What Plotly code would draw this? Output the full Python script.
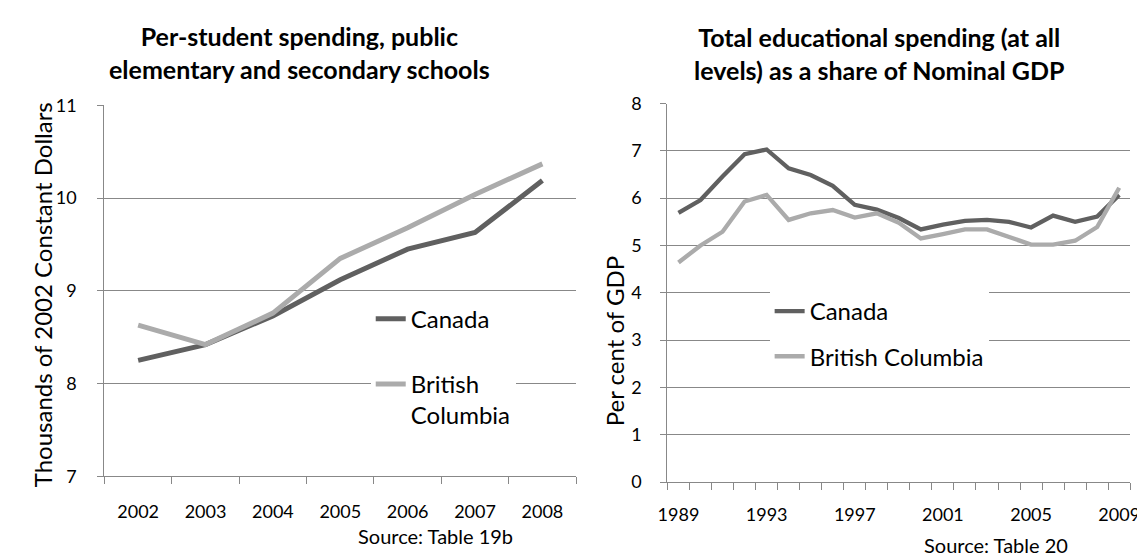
import plotly.graph_objects as go

# ---------------- data ----------------
years_a = [2002, 2003, 2004, 2005, 2006, 2007, 2008]
canada_a = [8.25, 8.42, 8.73, 9.12, 9.45, 9.63, 10.19]
bc_a = [8.63, 8.42, 8.76, 9.35, 9.68, 10.04, 10.37]

years_b = [1989, 1990, 1991, 1992, 1993, 1994, 1995, 1996, 1997, 1998, 1999,
           2000, 2001, 2002, 2003, 2004, 2005, 2006, 2007, 2008, 2009]
canada_b = [5.69, 5.96, 6.46, 6.93, 7.03, 6.63, 6.49, 6.26, 5.86, 5.76, 5.58,
            5.34, 5.44, 5.52, 5.54, 5.50, 5.38, 5.63, 5.50, 5.61, 6.07]
bc_b = [4.64, 5.00, 5.29, 5.93, 6.07, 5.54, 5.68, 5.75, 5.59, 5.68, 5.48,
        5.15, 5.24, 5.34, 5.34, 5.17, 5.02, 5.02, 5.10, 5.39, 6.22]
ticks_b = [1989, 1993, 1997, 2001, 2005, 2009]

title_a = "Per-student spending, public<br>elementary and secondary schools"
title_b = "Total educational spending (at all<br>levels) as a share of Nominal GDP"
ytitle_a = "Thousands of 2002 Constant Dollars"
ytitle_b = "Per cent of GDP"
source_a = "Source: Table 19b"
source_b = "Source: Table 20"

# ---------------- style ----------------
W, H = 1145, 557
FONT = "Lato"
GRID = "#888888"
DARK = "#606060"
LIGHT = "#ababab"


def px_x(v):
    return v / W


def px_y(v):
    return 1 - v / H


fig = go.Figure()

fig.add_trace(go.Scatter(x=years_a, y=canada_a, mode="lines", name="Canada",
                         line=dict(color=DARK, width=5), xaxis="x", yaxis="y",
                         legend="legend", legendgroup="a1"))
fig.add_trace(go.Scatter(x=years_a, y=bc_a, mode="lines", name="British<br>Columbia",
                         line=dict(color=LIGHT, width=5), xaxis="x", yaxis="y",
                         legend="legend", legendgroup="a2"))
fig.add_trace(go.Scatter(x=years_b, y=canada_b, mode="lines", name="Canada",
                         line=dict(color=DARK, width=4.3), xaxis="x2", yaxis="y2",
                         legend="legend2", legendgroup="b1"))
fig.add_trace(go.Scatter(x=years_b, y=bc_b, mode="lines", name="British Columbia",
                         line=dict(color=LIGHT, width=4.3), xaxis="x2", yaxis="y2",
                         legend="legend2", legendgroup="b2"))

# plot areas (pixels)
A_L, A_R, A_T, A_B = 88, 568, 89, 475
B_L, B_R, B_T, B_B = 661, 1132, 87, 481

common_x = dict(type="linear", showgrid=False, showline=True, linecolor=GRID, linewidth=1.3,
                ticks="", zeroline=False, fixedrange=True, tickfont=dict(size=18))
common_y = dict(showgrid=True, gridcolor=GRID, gridwidth=1.3, showline=True, linecolor=GRID,
                linewidth=1.3, ticks="outside", ticklen=6, tickcolor=GRID, tickwidth=1.3,
                zeroline=False, dtick=1, tickfont=dict(size=18))

fig.update_layout(
    width=W, height=H,
    margin=dict(l=0, r=0, t=0, b=0),
    paper_bgcolor="white", plot_bgcolor="white",
    font=dict(family=FONT, color="#000000"),
    xaxis=dict(**common_x, domain=[px_x(A_L), px_x(A_R)], anchor="y",
               range=[years_a[0] - 0.5, years_a[-1] + 0.5],
               tickmode="array", tickvals=years_a, ticklabelstandoff=19,
               minor=dict(ticks="outside", ticklen=7, tickcolor=GRID, tickwidth=1.3,
                          tick0=years_a[0] - 0.5, dtick=1, showgrid=False)),
    yaxis=dict(**common_y, domain=[px_y(A_B), px_y(A_T)], anchor="x",
               range=[7, 11], ticklabelstandoff=17),
    xaxis2=dict(**common_x, domain=[px_x(B_L), px_x(B_R)], anchor="y2",
                range=[years_b[0] - 0.5, years_b[-1] + 0.5],
                tickmode="array", tickvals=ticks_b, ticklabelstandoff=16,
                minor=dict(ticks="outside", ticklen=7, tickcolor=GRID, tickwidth=1.3,
                           tick0=years_b[0] - 0.5, dtick=1, showgrid=False)),
    yaxis2=dict(**common_y, domain=[px_y(B_B), px_y(B_T)], anchor="x2",
                range=[0, 8], ticklabelstandoff=15),
    legend=dict(x=px_x(359), y=px_y(288), xanchor="left", yanchor="top",
                bgcolor="white", borderwidth=0, font=dict(size=24, family=FONT),
                valign="top", tracegroupgap=31, traceorder="grouped"),
    legend2=dict(x=px_x(765), y=px_y(280), xanchor="left", yanchor="top",
                 bgcolor="white", borderwidth=0, font=dict(size=24, family=FONT),
                 valign="top", tracegroupgap=11, traceorder="grouped"),
    showlegend=True,
)

ann = []
ann.append(dict(text="<b>" + title_a + "</b>", x=px_x(287), y=px_y(34), xref="paper", yref="paper",
                showarrow=False, font=dict(size=25, family=FONT), xanchor="center", yanchor="middle"))
ann.append(dict(text="<b>" + title_b + "</b>", x=px_x(877), y=px_y(34.5), xref="paper", yref="paper",
                showarrow=False, font=dict(size=25, family=FONT), xanchor="center", yanchor="middle"))
ann.append(dict(text=ytitle_a, x=px_x(25), y=px_y(286), xref="paper", yref="paper", textangle=-90,
                showarrow=False, font=dict(size=24, family=FONT), xanchor="center", yanchor="middle"))
ann.append(dict(text=ytitle_b, x=px_x(607), y=px_y(334), xref="paper", yref="paper", textangle=-90,
                showarrow=False, font=dict(size=24, family=FONT), xanchor="center", yanchor="middle"))
ann.append(dict(text=source_a, x=px_x(425), y=px_y(537), xref="paper", yref="paper",
                showarrow=False, font=dict(size=20, family=FONT), xanchor="center", yanchor="middle"))
ann.append(dict(text=source_b, x=px_x(995), y=px_y(547), xref="paper", yref="paper",
                showarrow=False, font=dict(size=20, family=FONT), xanchor="center", yanchor="middle"))
fig.update_layout(annotations=ann)

fig.write_html("out.html")
